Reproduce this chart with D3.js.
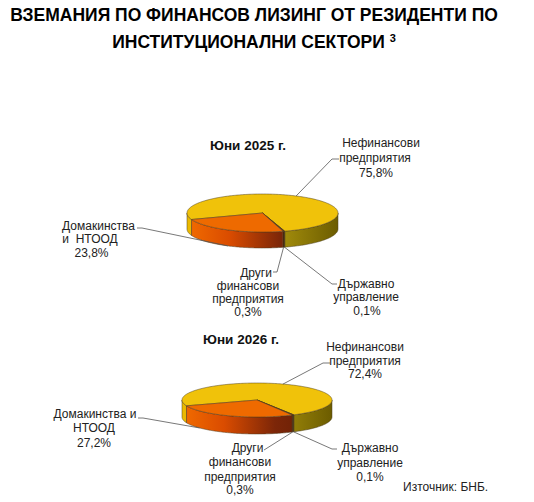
<!DOCTYPE html>
<html>
<head>
<meta charset="utf-8">
<script src="https://cdn.jsdelivr.net/npm/d3@7"></script>
<style>
body{margin:0;background:#fff;}
text{font-family:"Liberation Sans",Arial,sans-serif;}
</style>
</head>
<body>
<svg id="chart" width="534" height="502"></svg>
<script>
// data
var sectors = ["Нефинансови предприятия", "Държавно управление", "Други финансови предприятия", "Домакинства и НТООД"];
var periods = ["Юни 2025 г.", "Юни 2026 г."];
var values2025 = [75.8, 0.1, 0.3, 23.8];
var values2026 = [72.4, 0.1, 0.3, 27.2];
var labelLines2025 = [["Нефинансови", "предприятия"], ["Държавно", "управление"], ["Други", "финансови", "предприятия"], ["Домакинства", "и\u00a0 НТООД"]];
var labelLines2026 = [["Нефинансови", "предприятия"], ["Държавно", "управление"], ["Други", "финансови", "предприятия"], ["Домакинства и", "НТООД"]];
var titleLines = ["ВЗЕМАНИЯ ПО ФИНАНСОВ ЛИЗИНГ ОТ РЕЗИДЕНТИ ПО", "ИНСТИТУЦИОНАЛНИ СЕКТОРИ"];
var sourceNote = "Източник: БНБ.";

var series = [values2025, values2026];
var labelLines = [labelLines2025, labelLines2026];

// looks
var topColors = ["#f0c20a", "#5a3a00", "#7a3000", "#ee6a00"];
var wallStops = [
    [[0, "#ecba00"], [0.3, "#d4aa00"], [0.62, "#a48e0c"], [1, "#6c5c00"]],
    [[0, "#4a3000"], [1, "#2a1a00"]],
    [[0, "#6a3000"], [1, "#3a1800"]],
    [[0, "#f26c00"], [0.28, "#da4c00"], [0.62, "#7c2608"], [1, "#5a1a04"]]
];

var deg = Math.PI / 180;
var layout = [
    {cx: 262.5, cy: 213, rx: 75.5, ry: 19, depth: 16, titleX: 248, titleY: 145,
     labels: [
        {xs: [381, 375, 376], ys: [143, 158, 173], line: [[339, 159], [332, 159]], top: true},
        {xs: [366, 366, 367], ys: [284, 297, 311], line: [[337, 284], [332, 284]]},
        {xs: [256, 248, 248, 248], ys: [273, 286, 299, 312], line: [[273, 272], [277, 272]]},
        {xs: [98.5, 90, 91.5], ys: [226, 239, 253], line: [[137, 228], [142, 228]]}
     ]},
    {cx: 257, cy: 400, rx: 75, ry: 17, depth: 17, titleX: 241, titleY: 339,
     labels: [
        {xs: [365, 365, 365], ys: [347, 360.5, 374], line: [[330, 363], [323, 363]], top: true},
        {xs: [370, 370, 370], ys: [448, 463, 477], line: [[337, 449], [332, 449]]},
        {xs: [247.5, 240, 240, 240], ys: [448, 462, 477, 490], line: [[264, 450]]},
        {xs: [95, 94, 94], ys: [414, 428, 443], line: [[138, 418], [143, 418]], angle: 230 * deg}
     ]}
];

var svg = d3.select("#chart");
var defs = svg.append("defs");
var lineGen = d3.line();
var pctFmt = function(v){ return d3.format(".1f")(v).replace(".", ",") + "%"; };

var pie = d3.pie().sort(null).value(function(d){ return d; })
    .startAngle(-110 * deg).endAngle(250 * deg);

function P(g, a, h){ return [g.cx + g.rx * Math.sin(a), g.cy - g.ry * Math.cos(a) + (h || 0)]; }
function arcPts(g, a0, a1, h){
    var n = Math.max(2, Math.ceil(Math.abs(a1 - a0) / 0.02));
    return d3.range(n + 1).map(function(i){ return P(g, a0 + (a1 - a0) * i / n, h); });
}
function frontParts(a0, a1){
    var out = [];
    for (var k = -1; k <= 1; k++) {
        var lo = Math.max(a0, Math.PI / 2 + 2 * Math.PI * k), hi = Math.min(a1, 3 * Math.PI / 2 + 2 * Math.PI * k);
        if (hi > lo) out.push([lo, hi]);
    }
    return out;
}

// title
var title = svg.append("text").attr("x", 254).attr("y", 21).attr("text-anchor", "middle")
    .style("font-weight", "bold").style("font-size", "17.5px").attr("fill", "#000");
title.text(titleLines[0]);
var t2 = svg.append("text").attr("x", 254).attr("y", 48).attr("text-anchor", "middle")
    .style("font-weight", "bold").style("font-size", "17.5px").attr("fill", "#000");
t2.append("tspan").text(titleLines[1] + " ");
t2.append("tspan").attr("dy", -6).style("font-size", "11px").text("3");

series.forEach(function(vals, i){
    var g = layout[i];
    var arcs = pie(vals);
    var grp = svg.append("g");

    wallStops.forEach(function(stops, j){
        var lg = defs.append("linearGradient").attr("id", "w" + i + "_" + j)
            .attr("gradientUnits", "userSpaceOnUse")
            .attr("x1", g.cx - g.rx).attr("x2", g.cx + g.rx).attr("y1", 0).attr("y2", 0);
        stops.forEach(function(s){ lg.append("stop").attr("offset", s[0]).attr("stop-color", s[1]); });
    });

    // side walls
    arcs.forEach(function(d, j){
        frontParts(d.startAngle, d.endAngle).forEach(function(r){
            var pts = arcPts(g, r[0], r[1], 0).concat(arcPts(g, r[1], r[0], g.depth));
            grp.append("path").attr("d", lineGen(pts) + "Z")
                .attr("fill", "url(#w" + i + "_" + j + ")")
                .attr("stroke", "#4a3c20").attr("stroke-width", 0.5);
        });
    });

    // tops
    grp.selectAll("path.top").data(arcs).enter().append("path").attr("class", "top")
        .attr("d", function(d){ return lineGen([[g.cx, g.cy]].concat(arcPts(g, d.startAngle, d.endAngle, 0))) + "Z"; })
        .attr("fill", function(d, j){ return topColors[j]; })
        .attr("stroke", "#4a3c20").attr("stroke-width", 0.5);

    svg.append("text").attr("x", g.titleX).attr("y", g.titleY).attr("dy", "0.35em")
        .attr("text-anchor", "middle").style("font-weight", "bold").style("font-size", "13.5px")
        .attr("fill", "#111").text(periods[i]);

    // labels and leaders
    arcs.forEach(function(d, j){
        var L = g.labels[j];
        var a = L.angle != null ? L.angle : (d.startAngle + d.endAngle) / 2;
        var end = P(g, a, L.top ? 0 : g.depth);
        svg.append("path").attr("d", lineGen(L.line.concat([end])))
            .attr("fill", "none").attr("stroke", "#555").attr("stroke-width", 0.8);

        var lines = labelLines[i][j].concat([pctFmt(vals[j])]);
        var txt = svg.append("text").attr("fill", "#222").style("font-size", "12px").attr("text-anchor", "middle");
        lines.forEach(function(s, k){
            txt.append("tspan").attr("x", L.xs[k]).attr("y", L.ys[k]).attr("dy", "0.35em").text(s);
        });
    });
});

svg.append("text").attr("x", 403).attr("y", 487).attr("dy", "0.35em")
    .style("font-size", "12px").attr("fill", "#222").text(sourceNote);
</script>
</body>
</html>
